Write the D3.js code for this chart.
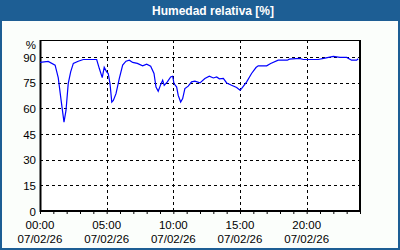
<!DOCTYPE html>
<html><head><meta charset="utf-8">
<script src="https://cdn.jsdelivr.net/npm/d3@7"></script>
<style>body{margin:0;}svg{display:block;}text{font-family:"Liberation Sans",Arial,sans-serif;}</style>
</head><body><svg id="c" width="400" height="250"></svg>
<script>
const times = ["00:00","00:37","01:08","01:22","01:35","01:48","01:57","02:07","02:18","02:30","02:52","03:15","04:15","04:27","04:40","04:49","05:00","05:07","05:15","05:23","05:30","05:42","05:57","06:12","06:27","06:42","06:57","07:18","07:42","08:00","08:18","08:33","08:42","08:52","09:03","09:12","09:19","09:33","09:48","09:57","10:03","10:15","10:22","10:33","10:42","10:52","11:07","11:22","11:37","12:00","12:22","12:42","13:00","13:15","13:27","13:45","14:00","14:22","14:45","15:00","15:07","15:30","15:52","16:12","16:22","17:00","17:18","17:52","18:33","18:42","19:27","19:45","20:52","21:22","22:00","22:30","23:00","23:22","23:45","23:52"];
const humidity = [86.9,87.5,85.3,78,64.7,52,58.8,74.5,81.4,86.3,87.6,88.6,88.6,83.3,78,84,81.4,80.4,74.5,63.7,64.7,68.6,77.5,85.3,87.6,88.2,86.9,86.3,84.9,85.9,84.7,80.4,72.5,70,73.9,76.5,73.5,75.5,78.4,78.8,74.5,72.5,67.6,63.7,65.7,71.6,73,75.5,75.9,74.9,77.5,78.8,77.8,78.4,77.3,77.5,74.9,73.5,72.2,70.6,71.6,75.5,80.4,83.9,84.9,84.9,86.3,88.2,88.2,88.8,89.2,88.6,88.6,89.4,90.4,89.8,89.8,88.2,88.2,89];
const yTicks = [0,15,30,45,60,75,90];
const xTickHours = [0,5,10,15,20];
const xTickLabels = ["00:00","05:00","10:00","15:00","20:00"];
const dateLabel = "07/02/26";
const title = "Humedad relativa [%]";

const toH = s => { const [h,m] = s.split(":").map(Number); return h + m/60; };
const data = times.map((t,i)=>({h:toH(t), v:humidity[i]}));

const svg = d3.select("#c");
const L=40, R=360, T=40, B=211;
const x = d3.scaleLinear().domain([0,24]).range([L,R]);
const y = d3.scaleLinear().domain([0,100]).range([B,T]);

svg.append("rect").attr("width",400).attr("height",250).attr("fill","#1d5e94");
svg.append("rect").attr("x",2).attr("y",21).attr("width",396).attr("height",227).attr("fill","#fbfefb");
svg.append("text").attr("x",213).attr("y",15).attr("text-anchor","middle").attr("fill","#fff")
  .attr("font-weight","bold").attr("font-size","12px").attr("font-family","DejaVu Sans, sans-serif").text(title);

svg.append("rect").attr("x",L).attr("y",T).attr("width",R-L).attr("height",B-T).attr("fill","#fff");

// grid
const g = svg.append("g");
g.selectAll("line.h").data(yTicks.filter(d=>d>0)).join("line")
  .attr("x1",L).attr("x2",R).attr("y1",d=>Math.round(y(d))+0.5).attr("y2",d=>Math.round(y(d))+0.5)
  .attr("stroke","#000").attr("stroke-dasharray","3,3");
g.selectAll("line.v").data(xTickHours.filter(d=>d>0)).join("line")
  .attr("y1",T).attr("y2",B).attr("x1",d=>Math.round(x(d))+0.5).attr("x2",d=>Math.round(x(d))+0.5)
  .attr("stroke","#000").attr("stroke-dasharray","3,3");

// x axis
const xAxis = d3.axisBottom(x).tickValues(d3.range(0,25,1)).tickSize(3).tickFormat("");
const ax = svg.append("g").attr("transform",`translate(0,${B})`).call(xAxis);
ax.select(".domain").remove();
ax.selectAll(".tick line").attr("stroke","#000").attr("stroke-width",1);

svg.selectAll("text.xl").data(xTickHours).join("text")
  .attr("x",(d)=>x(d)).attr("y",229).attr("text-anchor","middle").attr("font-size","11.5px").attr("fill","#000")
  .text((d,i)=>xTickLabels[i]);
svg.selectAll("text.xd").data(xTickHours).join("text")
  .attr("x",(d)=>x(d)).attr("y",243).attr("text-anchor","middle").attr("font-size","11.5px").attr("fill","#000")
  .text(dateLabel);

// y labels
svg.selectAll("text.yl").data(yTicks).join("text")
  .attr("x",36).attr("y",d=>y(d)+4.5).attr("text-anchor","end").attr("font-size","11.5px").attr("fill","#000")
  .text(d=>d);
svg.append("text").attr("x",36).attr("y",49).attr("text-anchor","end").attr("font-size","11.5px").text("%");

// frame
svg.append("line").attr("x1",L).attr("x2",R).attr("y1",T+0.5).attr("y2",T+0.5).attr("stroke","#000");
svg.append("line").attr("x1",L+0.5).attr("x2",L+0.5).attr("y1",T).attr("y2",B+1).attr("stroke","#000").attr("stroke-width",2);
svg.append("line").attr("x1",R).attr("x2",R).attr("y1",T).attr("y2",B+1).attr("stroke","#000").attr("stroke-width",2);
svg.append("line").attr("x1",L).attr("x2",R+1).attr("y1",B).attr("y2",B).attr("stroke","#000").attr("stroke-width",2);

// line
const line = d3.line().x(d=>x(d.h)).y(d=>y(d.v));
svg.append("path").datum(data).attr("d",line).attr("fill","none").attr("stroke","#0000ff").attr("stroke-width",1.2);
</script></body></html>
